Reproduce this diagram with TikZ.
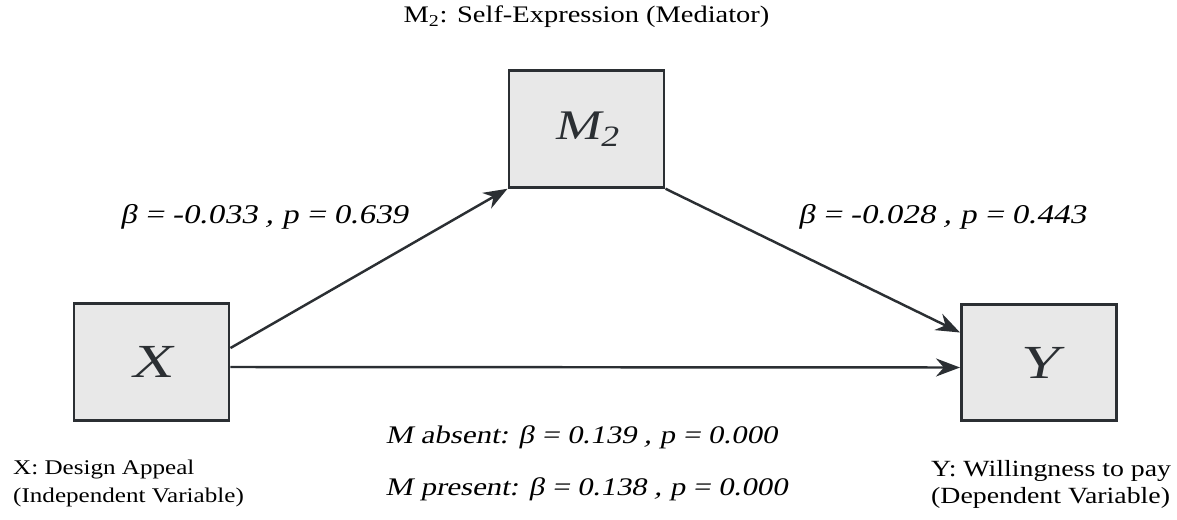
\documentclass[tikz,border=0pt]{standalone}
\usepackage{fontspec}
\setmainfont{Liberation Serif}[FakeStretch=1.2]
\newfontfamily\slantfont{Liberation Serif}[FakeSlant=0.2, FakeStretch=1.22]
\usepackage{xcolor}
\usetikzlibrary{arrows.meta,positioning,calc}
\definecolor{Ink}{HTML}{2B2F33}
\definecolor{Box}{HTML}{E8E8E8}
\tikzset{
  varbox/.style={draw=Ink, fill=Box, line width=1.7pt, minimum width=3.1cm, minimum height=2.33cm, text=Ink, font=\slantfont\fontsize{27}{30}\selectfont},
  path/.style={draw=Ink, line width=1.4pt, -{Stealth[length=4.8mm, width=3.6mm]}},
  coef/.style={font=\slantfont\fontsize{15.4}{18}\selectfont},
  coefsmall/.style={font=\slantfont\fontsize{14.4}{18}\selectfont},
  caption/.style={font=\fontsize{11.9}{15.6}\selectfont, align=left}
}

\begin{document}
\begin{tikzpicture}
        \useasboundingbox (0,0) rectangle (23.54,10.38);
        % boxes
        \node[varbox, font=\slantfont\fontsize{24}{28}\selectfont] (m) at (11.73,7.80) {M\textsubscript{2}};
        \node[varbox] (x) at (3.03,3.14) {X};
        \node[varbox] (y) at (20.78,3.13) {Y};
        % paths
        \draw[path] ([yshift=0.28cm]x.east) -- (m.south west);
        \draw[path] (m.south east) -- ([yshift=0.6cm]y.west);
        \draw[path] ([yshift=-0.1cm]x.east) -- ([yshift=-0.1cm]y.west);
        % coefficients
        \node[coef] (a) at (5.28,6.05) {β = -0.033 , p = 0.639};
        \node[coef] (b) at (18.84,6.05) {β = -0.028 , p = 0.443};
        \node[coefsmall] (c) at (11.63,1.64) {M absent: β = 0.139 , p = 0.000};
        \node[coefsmall] (c2) at (11.73,0.60) {M present: β = 0.138 , p = 0.000};
        % captions
        \node[caption, font=\fontsize{13.5}{16}\selectfont] (mt) at (11.73,10.04) {M\textsubscript{2}: Self-Expression (Mediator)};
        \node[caption, anchor=north west] (xt) at (0.14,1.30) {X: Design Appeal\\(Independent Variable)};
        \node[caption, anchor=north west, font=\fontsize{13.2}{15.6}\selectfont] (yt) at (18.50,1.30) {Y: Willingness to pay\\(Dependent Variable)};
      \end{tikzpicture}
\end{document}
